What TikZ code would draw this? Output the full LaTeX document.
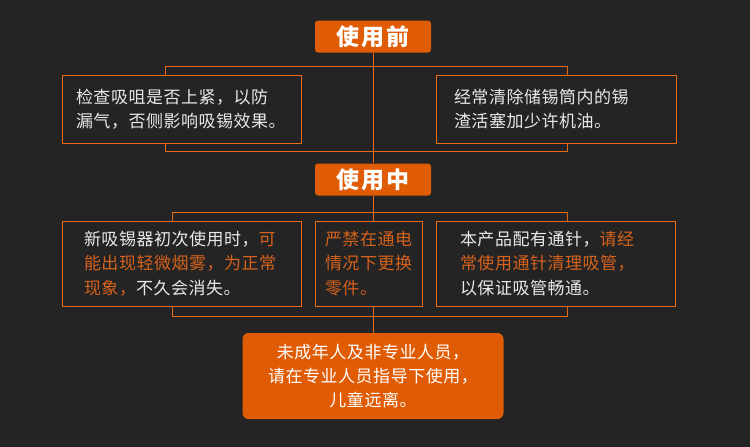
\documentclass[tikz,border=0pt]{standalone}
\usepackage{fontspec}
\newfontfamily\cjk[LetterSpace=3]{Noto Sans CJK SC}
\newfontfamily\cjklabel[LetterSpace=10]{Noto Sans CJK SC}
\usetikzlibrary{positioning, backgrounds}
\definecolor{cBg}{RGB}{36,36,36}
\definecolor{cOrange}{RGB}{224,92,4}
\definecolor{cLine}{RGB}{235,105,20}
\definecolor{cHint}{RGB}{214,98,28}
\definecolor{cText}{RGB}{232,232,232}
\pgfdeclarelayer{bg}
\pgfsetlayers{bg,background,main}
\newcommand{\hl}[1]{\textcolor{cHint}{#1}}
\tikzset{
	stage/.style  ={rectangle, rounded corners=3pt, fill=cOrange, text=white, minimum width=116pt, minimum height=32pt, inner sep=0pt, font=\fontsize{23}{26}\selectfont\cjklabel\bfseries},
	tipbox/.style ={rectangle, draw=cLine, line width=1pt, fill=cBg, text=cText, align=left, inner ysep=0pt, font=\fontsize{17}{24.5}\selectfont\cjk},
	warnbox/.style={rectangle, rounded corners=6pt, fill=cOrange, text=white, align=center, minimum width=261pt, minimum height=86pt, font=\fontsize{17}{24}\selectfont\cjk},
	frame/.style  ={draw=cLine, line width=1pt},
	link/.style   ={cLine, line width=1pt},
}

\begin{document}
\begin{tikzpicture}[x=1pt, y=-1pt]
	\begin{pgfonlayer}{bg}
		\fill[cBg] (0,0) rectangle (750,447);
	\end{pgfonlayer}
	% stage 1
	\node[stage] (before) at (373,36.5) {使用前};
	\node[tipbox, minimum width=239pt, minimum height=68pt, text width=211pt, inner xsep=14pt] (check) at (181.5,109) {检查吸咀是否上紧，以防\\漏气，否侧影响吸锡效果。};
	\node[tipbox, minimum width=240pt, minimum height=68pt, text width=204pt, inner xsep=18pt] (clean) at (556,109) {经常清除储锡筒内的锡\\渣活塞加少许机油。};
	% stage 2
	\node[stage] (during) at (373,179.5) {使用中};
	\node[tipbox, minimum width=239pt, minimum height=85pt, text width=195pt, inner xsep=22pt] (first) at (181.5,263.5) {新吸锡器初次使用时，\hl{可}\\\hl{能出现轻微烟雾，为正常}\\\hl{现象，}不久会消失。};
	\node[tipbox, minimum width=107pt, minimum height=85pt, text width=87pt, inner xsep=10pt, text=cHint] (nopower) at (368.5,263.5) {严禁在通电\\情况下更换\\零件。};
	\node[tipbox, minimum width=239pt, minimum height=85pt, text width=191pt, inner xsep=24pt] (needle) at (555.5,263.5) {本产品配有通针，\hl{请经}\\\hl{常使用通针清理吸管，}\\以保证吸管畅通。};
	% warning
	\node[warnbox] (warn) at (373,376) {未成年人及非专业人员，\\请在专业人员指导下使用，\\儿童远离。};
	\begin{scope}[on background layer]
		\draw[frame] (165,66) rectangle (567,151);
		\draw[frame] (172,212) rectangle (567,316);
		\draw[link] (before.south) -- (during.north);
		\draw[link] (during.south) -- (warn.north);
	\end{scope}
\end{tikzpicture}
\end{document}
